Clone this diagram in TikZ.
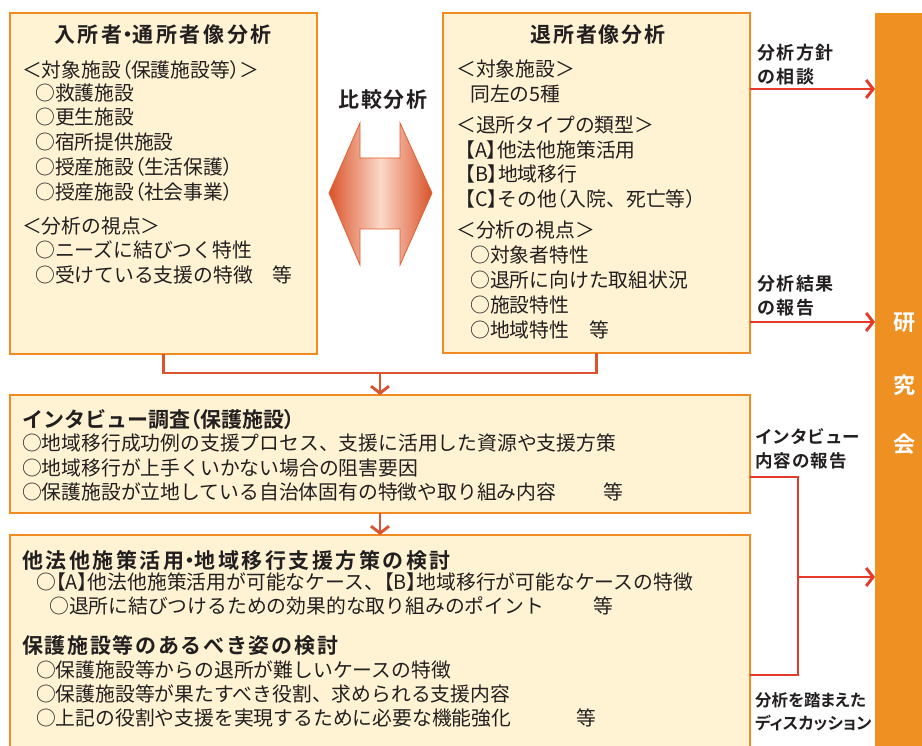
\documentclass[tikz,border=0pt]{standalone}
\usepackage{fontspec}
\setmainfont{Noto Sans CJK JP}[BoldFont={Noto Sans CJK JP Bold}]
\usetikzlibrary{arrows.meta}
\newcommand{\pp}[1]{{\addfontfeature{RawFeature=+palt}#1}}
\definecolor{boxfill}{HTML}{FFF3D3}
\definecolor{boxedge}{HTML}{EF8B22}
\definecolor{barfill}{HTML}{EE9022}
\definecolor{linkc}{HTML}{DA5430}
\definecolor{redc}{HTML}{E5392B}
\definecolor{ink}{HTML}{231F20}
\definecolor{adark}{HTML}{D9532B}
\definecolor{alight}{HTML}{FCD9C9}
\definecolor{aedge}{HTML}{E0602F}
\tikzset{
  box/.style={draw=boxedge, fill=boxfill, line width=2.8pt, inner sep=0pt, outer sep=0pt, anchor=north west},
  barbox/.style={fill=barfill, draw=none, inner sep=0pt, outer sep=0pt, anchor=north west},
  txt/.style={anchor=west, inner sep=0pt, text=ink, font=\fontsize{19.8}{24}\selectfont, text height=17.4pt, text depth=2.4pt},
  ttl/.style={anchor=west, inner sep=0pt, text=ink, font=\bfseries\fontsize{21}{26}\selectfont\addfontfeature{LetterSpace=8}, text height=18.5pt, text depth=2.5pt},
  ttlwide/.style={ttl, font=\bfseries\fontsize{21}{26}\selectfont\addfontfeature{LetterSpace=12}},
  ttlnarrow/.style={ttl, font=\bfseries\fontsize{21}{26}\selectfont},
  ttlc/.style={ttl, anchor=center},
  lbl/.style={anchor=west, inner sep=0pt, text=ink, font=\bfseries\fontsize{18}{22}\selectfont\addfontfeature{LetterSpace=8}, text height=15.8pt, text depth=2.2pt},
  lblnarrow/.style={anchor=west, inner sep=0pt, text=ink, font=\bfseries\fontsize{16.5}{20}\selectfont\addfontfeature{RawFeature=+palt}, text height=14.5pt, text depth=2pt},
  wlbl/.style={anchor=center, inner sep=0pt, text=white, font=\bfseries\fontsize{22}{26}\selectfont, text height=19.4pt, text depth=2.6pt},
  link/.style={draw=linkc, line width=2.9pt},
  linkarrow/.style={link, -{Straight Barb[length=7pt,width=18pt]}},
  redline/.style={draw=redc, line width=2.9pt},
  redarrow/.style={redline, -{Straight Barb[length=7pt,width=18pt]}},
}
\begin{document}
\begin{tikzpicture}[x=1pt,y=-1pt]
\path[use as bounding box, fill=white] (0,0) rectangle (922,746);
\clip (0,0) rectangle (922,746);

% boxes
\node[box, minimum width=307pt, minimum height=341pt] (b1) at (10,13) {};
\node[box, minimum width=307pt, minimum height=340pt] (b2) at (443,13) {};
\node[box, minimum width=740pt, minimum height=118pt] (b3) at (10,395) {};
\node[box, minimum width=740pt, minimum height=240pt] (b4) at (10,535) {};
\node[barbox, minimum width=60pt, minimum height=750pt] (bar) at (875,13) {};

% double arrow
\path[draw=aedge, line width=0.8pt, left color=adark, right color=adark, middle color=alight]
  (360,123) -- (360,158) -- (400,158) -- (400,123) -- (432,193) -- (400,265)
  -- (400,229) -- (360,229) -- (360,265) -- (329,193) -- cycle;
\node[ttlc] (cmp) at (383,100) {比較分析};

% box 1 text
\node[ttlwide, anchor=center] (t1) at (163,35) {入所者\pp{・}通所者像分析};
\node[txt] (t1a) at (22,70) {＜対象施設\pp{（}保護施設等\pp{）}＞};
\node[txt] (t1b) at (35,93) {○救護施設};
\node[txt] (t1c) at (35,117) {○更生施設};
\node[txt] (t1d) at (35,142) {○宿所提供施設};
\node[txt] (t1e) at (35,167) {○授産施設\pp{（}生活保護\pp{）}};
\node[txt] (t1f) at (35,192) {○授産施設\pp{（}社会事業\pp{）}};
\node[txt] (t1g) at (22,226) {＜分析の視点＞};
\node[txt] (t1h) at (35,250) {○ニーズに結びつく特性};
\node[txt] (t1i) at (35,275) {○受けている支援の特徴　等};

% box 2 text
\node[ttlc] (t2) at (598,35) {退所者像分析};
\node[txt] (t2a) at (456,69) {＜対象施設＞};
\node[txt] (t2b) at (470,94) {同左の5種};
\node[txt] (t2c) at (456,125) {＜退所タイプの類型＞};
\node[txt] (t2d) at (465,150) {\pp{【}A\pp{】}他法他施策活用};
\node[txt] (t2e) at (465,174) {\pp{【}B\pp{】}地域移行};
\node[txt] (t2f) at (465,199) {\pp{【}C\pp{】}その他\pp{（}入院、死亡等\pp{）}};
\node[txt] (t2g) at (456,230) {＜分析の視点＞};
\node[txt] (t2h) at (470,255) {○対象者特性};
\node[txt] (t2i) at (470,280) {○退所に向けた取組状況};
\node[txt] (t2j) at (470,305) {○施設特性};
\node[txt] (t2k) at (470,330) {○地域特性　等};

% box 3 text
\node[ttlnarrow] (t3) at (22,420) {インタビュー調査\pp{（}保護施設\pp{）}};
\node[txt] (t3a) at (22,443) {○地域移行成功例の支援プロセス、支援に活用した資源や支援方策};
\node[txt] (t3b) at (22,468) {○地域移行が上手くいかない場合の阻害要因};
\node[txt] (t3c) at (22,492) {○保護施設が立地している自治体固有の特徴や取り組み内容\hspace{2.4em}等};

% box 4 text
\node[ttlwide] (t4) at (22,560) {他法他施策活用\pp{・}地域移行支援方策の検討};
\node[txt] (t4a) at (36,582) {○\pp{【}A\pp{】}他法他施策活用が可能なケース、\pp{【}B\pp{】}地域移行が可能なケースの特徴};
\node[txt] (t4b) at (49,606) {○退所に結びつけるための効果的な取り組みのポイント\hspace{2.5em}等};
\node[ttl] (t5) at (22,645) {保護施設等のあるべき姿の検討};
\node[txt] (t5a) at (36,670) {○保護施設等からの退所が難しいケースの特徴};
\node[txt] (t5b) at (36,694) {○保護施設等が果たすべき役割、求められる支援内容};
\node[txt] (t5c) at (36,718) {○上記の役割や支援を実現するために必要な機能強化\hspace{3.3em}等};

% bar text
\node[wlbl] (k1) at (904,322) {研};
\node[wlbl] (k2) at (904,385) {究};
\node[wlbl] (k3) at (904,444) {会};

% labels
\node[lbl] (l1a) at (757,53) {分析方針};
\node[lbl] (l1b) at (757,77) {の相談};
\node[lbl] (l2a) at (757,284) {分析結果};
\node[lbl] (l2b) at (757,308) {の報告};
\node[lbl, font=\bfseries\fontsize{17.5}{22}\selectfont] (l3a) at (755,437) {インタビュー};
\node[lbl, font=\bfseries\fontsize{17.5}{22}\selectfont\addfontfeature{LetterSpace=6}] (l3b) at (755,461) {内容の報告};
\node[lblnarrow] (l4a) at (755,700) {分析を踏まえた};
\node[lblnarrow] (l4b) at (755,723) {ディスカッション};

% connectors
\coordinate (m1) at (380,373);
\draw[link] (b1.south) |- (m1) -| (b2.south);
\draw[linkarrow] (m1) -- (b3.north);
\draw[linkarrow] (b3.south) -- (b4.north);

\coordinate (c1) at (800,89);
\coordinate (c2) at (800,322);
\draw[redarrow] (b2.east |- c1) -- (bar.west |- c1);
\draw[redarrow] (b2.east |- c2) -- (bar.west |- c2);

\coordinate (r1) at (798,477);
\coordinate (r2) at (798,675);
\coordinate (r3) at (798,577);
\draw[redline] (b3.east |- r1) -- (r1) -- (r2) -- (b4.east |- r2);
\draw[redarrow] (r3) -- (bar.west |- r3);
\end{tikzpicture}
\end{document}
